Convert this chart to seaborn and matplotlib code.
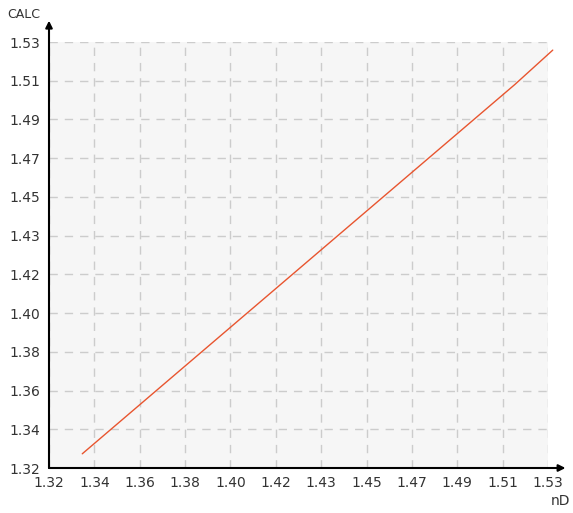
import matplotlib.pyplot as plt
import seaborn as sns
import numpy as np

# data
nd = [1.334, 1.355, 1.378, 1.401, 1.424, 1.447, 1.470, 1.493, 1.516, 1.532]
calc = [1.327, 1.348, 1.371, 1.394, 1.417, 1.440, 1.463, 1.486, 1.509, 1.526]
tick_labels = ["1.32", "1.34", "1.36", "1.38", "1.40", "1.42",
               "1.43", "1.45", "1.47", "1.49", "1.51", "1.53"]
lo, hi = 1.32, 1.53

sns.set_style("white")
plt.rcParams['font.family'] = ['DejaVu Sans']

fig = plt.figure(figsize=(5.73, 5.13), dpi=100)
ax = fig.add_axes([49/573, 45/513, 499/573, 426/513])
ax.set_facecolor("#f6f6f6")

sns.lineplot(x=nd, y=calc, ax=ax, color="#e8552f", linewidth=1.0)
for ln in ax.lines:
    ln.set_clip_on(False)

ticks = np.linspace(lo, hi, len(tick_labels))
ax.set_xticks(ticks)
ax.set_xticklabels(tick_labels)
ax.set_yticks(ticks)
ax.set_yticklabels(tick_labels)
ax.set_xlim(lo, hi)
ax.set_ylim(lo, hi)
ax.tick_params(length=0, labelsize=10, colors="#333333", pad=6)

ax.grid(True, color="#cccccc", linestyle=(0, (6, 5)), linewidth=1)
for s in ax.spines.values():
    s.set_visible(False)

# axis lines with arrows
ax.annotate("", xy=(1.035, 0), xytext=(0, 0), xycoords="axes fraction",
            arrowprops=dict(arrowstyle="-|>", color="black", lw=1.5,
                            mutation_scale=10, shrinkA=0, shrinkB=0),
            annotation_clip=False)
ax.annotate("", xy=(0, 1.05), xytext=(0, 0), xycoords="axes fraction",
            arrowprops=dict(arrowstyle="-|>", color="black", lw=1.5,
                            mutation_scale=10, shrinkA=0, shrinkB=0),
            annotation_clip=False)

fig.text(7/573, 1 - 14/513, "CALC", fontsize=9, va="center", ha="left", color="#333333")
fig.text(560/573, 1 - 501/513, "nD", fontsize=10, va="center", ha="center", color="#333333")

fig.savefig("out.png", dpi=100)
